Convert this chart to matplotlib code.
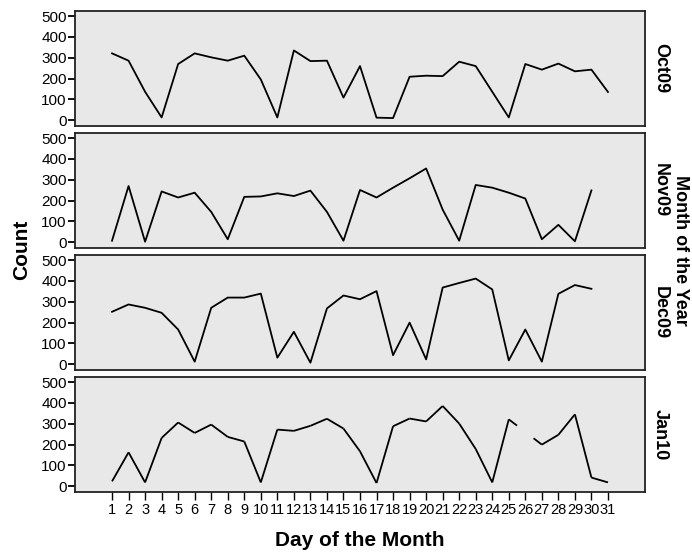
import matplotlib.pyplot as plt
import numpy as np

plt.rcParams['font.family'] = ['Liberation Sans', 'DejaVu Sans']

days = list(range(1, 32))
months = ['Oct09', 'Nov09', 'Dec09', 'Jan10']

oct09 = [321, 286, 137, 14, 270, 321, 302, 286, 310, 196, 14, 335, 284, 286, 109, 260,
         13, 11, 209, 214, 212, 281, 260, 137, 14, 270, 243, 272, 235, 243, 136]
nov09 = [8, 270, 3, 244, 215, 238, 146, 15, 218, 220, 235, 222, 248, 146, 8, 251,
         215, 262, 307, 354, 157, 8, 275, 262, 238, 210, 15, 84, 5, 249, np.nan]
dec09 = [252, 287, 271, 247, 167, 13, 271, 320, 320, 339, 32, 156, 8, 268, 330, 312,
         351, 44, 200, 24, 368, 390, 411, 359, 19, 167, 13, 338, 380, 362, np.nan]
jan10 = [24, 163, 19, 232, 306, 256, 296, 237, 215, 19, 272, 266, 290, 324, 277, 168,
         16, 288, 325, 311, 385, 301, 179, 19, 321, 261, 200, 247, 345, 42, 19]
counts = [oct09, nov09, dec09, jan10]

# days whose line segments are only drawn halfway (broken line)
broken = {'Jan10': [26]}

fig = plt.figure(figsize=(6.92, 5.53), dpi=100)
W, H = 692, 553
left, right = 75, 645
tops = [11, 133, 255, 377]
ph = 115

for k, (name, vals) in enumerate(zip(months, counts)):
    ax = fig.add_axes([left / W, 1 - (tops[k] + ph) / H, (right - left) / W, ph / H])
    ax.set_facecolor('#e8e8e8')
    x = np.array(days, dtype=float)
    y = np.array(vals, dtype=float)
    gaps = broken.get(name, [])
    if gaps:
        for i in range(len(x) - 1):
            x0, x1, y0, y1 = x[i], x[i + 1], y[i], y[i + 1]
            xm, ym = (x0 + x1) / 2, (y0 + y1) / 2
            if x1 in gaps:
                seg = ([x0, xm], [y0, ym])
            elif x0 in gaps:
                seg = ([xm, x1], [ym, y1])
            else:
                seg = ([x0, x1], [y0, y1])
            ax.plot(*seg, color='black', lw=1.3, solid_capstyle='butt')
    else:
        ax.plot(x, y, color='black', lw=1.3)
    ax.set_xlim(-1.24, 33.24)
    ax.set_ylim(-27, 524)
    ax.set_yticks(range(0, 501, 100))
    ax.tick_params(axis='y', direction='out', length=5, width=1.3, labelsize=11, pad=1)
    for s in ax.spines.values():
        s.set_linewidth(1.3)
        s.set_color('#222222')
    if k == len(months) - 1:
        ax.set_xticks(days)
        ax.set_xticklabels([str(d) for d in days])
        ax.tick_params(axis='x', direction='out', length=6, width=1.0, labelsize=10.5, pad=2)
    else:
        ax.set_xticks([])
    ax.text(1.012, 0.5, name, transform=ax.transAxes, rotation=-90, fontsize=13,
            fontweight='bold', ha='left', va='center')

fig.text(22 / W, 1 - 250 / H, 'Count', rotation=90, fontsize=15, fontweight='bold',
         ha='center', va='center')
fig.text(680 / W, 1 - 250 / H, 'Month of the Year', rotation=-90, fontsize=13,
         fontweight='bold', ha='center', va='center')
fig.text(360 / W, 1 - 541 / H, 'Day of the Month', fontsize=15, fontweight='bold',
         ha='center', va='center')

fig.savefig('out.png', dpi=100)
